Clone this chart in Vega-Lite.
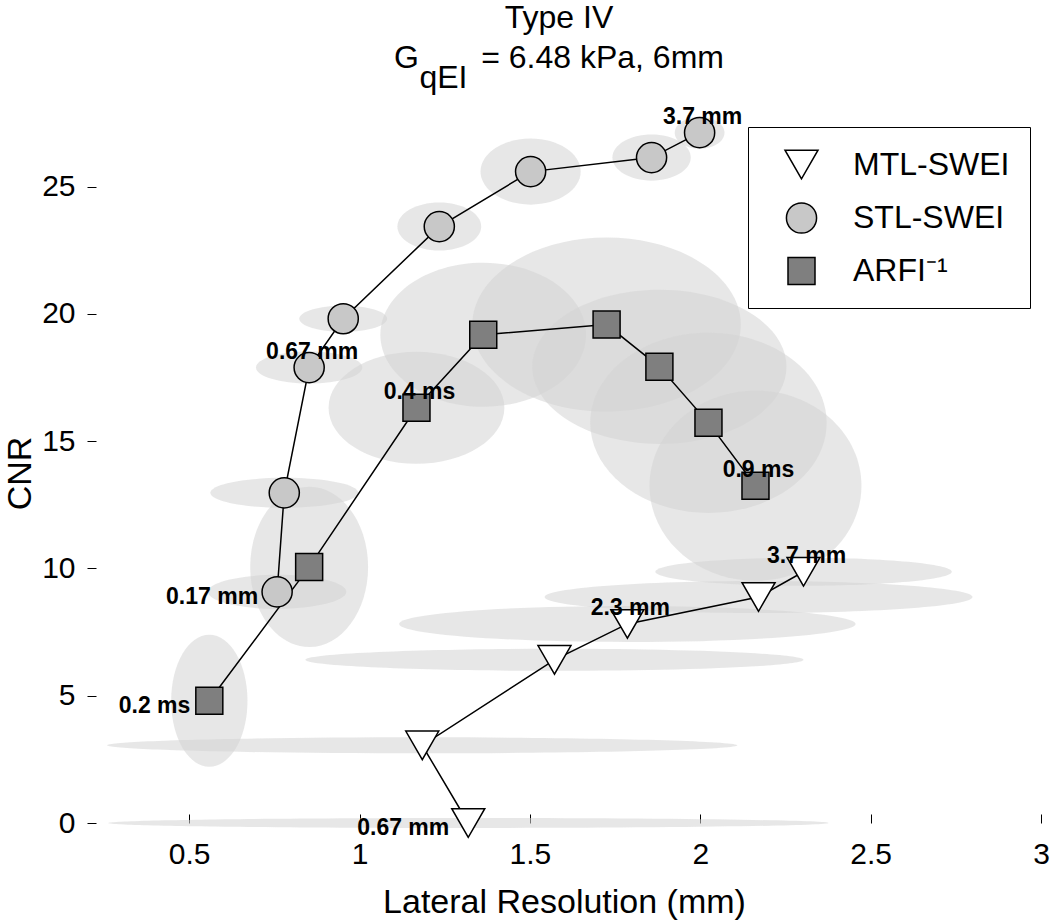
{
  "$schema": "https://vega.github.io/schema/vega-lite/v6.json",
  "width": 954,
  "height": 700,
  "autosize": {"type": "none"},
  "padding": {"left": 87, "top": 123, "right": 9, "bottom": 97},
  "background": "white",
  "config": {
    "view": {"stroke": null},
    "font": "Liberation Sans",
    "legend": {
      "orient": "none",
      "legendX": 661,
      "legendY": 4,
      "padding": 20,
      "symbolOffset": 16,
      "labelOffset": 34,
      "rowPadding": 17,
      "labelFontSize": 32,
      "labelFont": "Liberation Sans",
      "labelColor": "black",
      "strokeColor": "black",
      "fillColor": "white",
      "symbolStrokeWidth": 1.5,
      "labelLimit": 400
    }
  },
  "title": {
    "text": ["Type IV", "G\u00a0\u00a0\u00a0\u00a0\u00a0\u00a0\u00a0= 6.48 kPa, 6mm"],
    "subtitle": "qEI\u00a0\u00a0\u00a0\u00a0\u00a0\u00a0\u00a0\u00a0\u00a0\u00a0\u00a0\u00a0\u00a0\u00a0\u00a0\u00a0\u00a0\u00a0\u00a0\u00a0\u00a0\u00a0\u00a0\u00a0\u00a0\u00a0\u200b",
    "anchor": "middle",
    "font": "Liberation Sans",
    "fontSize": 32,
    "fontWeight": "normal",
    "color": "black",
    "lineHeight": 40,
    "subtitleFont": "Liberation Sans",
    "subtitleFontSize": 32,
    "subtitleColor": "black",
    "subtitlePadding": -12,
    "offset": 11,
    "dx": -5
  },
  "datasets": {
    "points": [
      {"series": "MTL-SWEI", "step": 1, "x": 1.319, "y": 0.0, "label": "0.67 mm"},
      {"series": "MTL-SWEI", "step": 2, "x": 1.184, "y": 3.05},
      {"series": "MTL-SWEI", "step": 3, "x": 1.572, "y": 6.41},
      {"series": "MTL-SWEI", "step": 4, "x": 1.786, "y": 7.82, "label": "2.3 mm"},
      {"series": "MTL-SWEI", "step": 5, "x": 2.171, "y": 8.88},
      {"series": "MTL-SWEI", "step": 6, "x": 2.303, "y": 9.87, "label": "3.7 mm"},
      {"series": "STL-SWEI", "step": 1, "x": 0.758, "y": 9.08, "label": "0.17 mm"},
      {"series": "STL-SWEI", "step": 2, "x": 0.779, "y": 12.97},
      {"series": "STL-SWEI", "step": 3, "x": 0.852, "y": 17.89, "label": "0.67 mm"},
      {"series": "STL-SWEI", "step": 4, "x": 0.952, "y": 19.81},
      {"series": "STL-SWEI", "step": 5, "x": 1.234, "y": 23.43},
      {"series": "STL-SWEI", "step": 6, "x": 1.502, "y": 25.59},
      {"series": "STL-SWEI", "step": 7, "x": 1.857, "y": 26.14},
      {"series": "STL-SWEI", "step": 8, "x": 1.998, "y": 27.12, "label": "3.7 mm"},
      {"series": "ARFI⁻¹", "step": 1, "x": 0.559, "y": 4.80, "label": "0.2 ms"},
      {"series": "ARFI⁻¹", "step": 2, "x": 0.852, "y": 10.06},
      {"series": "ARFI⁻¹", "step": 3, "x": 1.167, "y": 16.31, "label": "0.4 ms"},
      {"series": "ARFI⁻¹", "step": 4, "x": 1.363, "y": 19.18},
      {"series": "ARFI⁻¹", "step": 5, "x": 1.725, "y": 19.58},
      {"series": "ARFI⁻¹", "step": 6, "x": 1.880, "y": 17.92},
      {"series": "ARFI⁻¹", "step": 7, "x": 2.024, "y": 15.72},
      {"series": "ARFI⁻¹", "step": 8, "x": 2.162, "y": 13.25, "label": "0.9 ms"}
    ],
    "ellipses": [
      {"ell": "M1", "v": 1, "x": 2.376, "y": 0.0}, {"ell": "M1", "v": 2, "x": 1.319, "y": 0.197}, {"ell": "M1", "v": 3, "x": 0.262, "y": 0.0}, {"ell": "M1", "v": 4, "x": 1.319, "y": -0.197},
      {"ell": "M2", "v": 1, "x": 2.109, "y": 3.05}, {"ell": "M2", "v": 2, "x": 1.184, "y": 3.364}, {"ell": "M2", "v": 3, "x": 0.259, "y": 3.05}, {"ell": "M2", "v": 4, "x": 1.184, "y": 2.736},
      {"ell": "M3", "v": 1, "x": 2.303, "y": 6.41}, {"ell": "M3", "v": 2, "x": 1.572, "y": 6.842}, {"ell": "M3", "v": 3, "x": 0.841, "y": 6.41}, {"ell": "M3", "v": 4, "x": 1.572, "y": 5.978},
      {"ell": "M4", "v": 1, "x": 2.456, "y": 7.82}, {"ell": "M4", "v": 2, "x": 1.786, "y": 8.528}, {"ell": "M4", "v": 3, "x": 1.116, "y": 7.82}, {"ell": "M4", "v": 4, "x": 1.786, "y": 7.112},
      {"ell": "M5", "v": 1, "x": 2.799, "y": 8.88}, {"ell": "M5", "v": 2, "x": 2.171, "y": 9.509}, {"ell": "M5", "v": 3, "x": 1.543, "y": 8.88}, {"ell": "M5", "v": 4, "x": 2.171, "y": 8.251},
      {"ell": "M6", "v": 1, "x": 2.738, "y": 9.87}, {"ell": "M6", "v": 2, "x": 2.303, "y": 10.42}, {"ell": "M6", "v": 3, "x": 1.868, "y": 9.87}, {"ell": "M6", "v": 4, "x": 2.303, "y": 9.32},
      {"ell": "S1", "v": 1, "x": 0.961, "y": 9.08}, {"ell": "S1", "v": 2, "x": 0.758, "y": 9.748}, {"ell": "S1", "v": 3, "x": 0.555, "y": 9.08}, {"ell": "S1", "v": 4, "x": 0.758, "y": 8.412},
      {"ell": "S2", "v": 1, "x": 0.996, "y": 12.97}, {"ell": "S2", "v": 2, "x": 0.779, "y": 13.56}, {"ell": "S2", "v": 3, "x": 0.562, "y": 12.97}, {"ell": "S2", "v": 4, "x": 0.779, "y": 12.38},
      {"ell": "S3", "v": 1, "x": 1.008, "y": 17.89}, {"ell": "S3", "v": 2, "x": 0.852, "y": 18.519}, {"ell": "S3", "v": 3, "x": 0.696, "y": 17.89}, {"ell": "S3", "v": 4, "x": 0.852, "y": 17.261},
      {"ell": "S4", "v": 1, "x": 1.081, "y": 19.81}, {"ell": "S4", "v": 2, "x": 0.952, "y": 20.321}, {"ell": "S4", "v": 3, "x": 0.823, "y": 19.81}, {"ell": "S4", "v": 4, "x": 0.952, "y": 19.299},
      {"ell": "S5", "v": 1, "x": 1.357, "y": 23.43}, {"ell": "S5", "v": 2, "x": 1.234, "y": 24.373}, {"ell": "S5", "v": 3, "x": 1.111, "y": 23.43}, {"ell": "S5", "v": 4, "x": 1.234, "y": 22.487},
      {"ell": "S6", "v": 1, "x": 1.649, "y": 25.59}, {"ell": "S6", "v": 2, "x": 1.502, "y": 26.887}, {"ell": "S6", "v": 3, "x": 1.355, "y": 25.59}, {"ell": "S6", "v": 4, "x": 1.502, "y": 24.293},
      {"ell": "S7", "v": 1, "x": 1.972, "y": 26.14}, {"ell": "S7", "v": 2, "x": 1.857, "y": 27.044}, {"ell": "S7", "v": 3, "x": 1.742, "y": 26.14}, {"ell": "S7", "v": 4, "x": 1.857, "y": 25.236},
      {"ell": "S8", "v": 1, "x": 2.071, "y": 27.12}, {"ell": "S8", "v": 2, "x": 1.998, "y": 27.749}, {"ell": "S8", "v": 3, "x": 1.925, "y": 27.12}, {"ell": "S8", "v": 4, "x": 1.998, "y": 26.491},
      {"ell": "A1", "v": 1, "x": 0.671, "y": 4.80}, {"ell": "A1", "v": 2, "x": 0.559, "y": 7.394}, {"ell": "A1", "v": 3, "x": 0.447, "y": 4.80}, {"ell": "A1", "v": 4, "x": 0.559, "y": 2.206},
      {"ell": "A2", "v": 1, "x": 1.025, "y": 10.06}, {"ell": "A2", "v": 2, "x": 0.852, "y": 13.205}, {"ell": "A2", "v": 3, "x": 0.679, "y": 10.06}, {"ell": "A2", "v": 4, "x": 0.852, "y": 6.915},
      {"ell": "A3", "v": 1, "x": 1.425, "y": 16.31}, {"ell": "A3", "v": 2, "x": 1.167, "y": 18.511}, {"ell": "A3", "v": 3, "x": 0.909, "y": 16.31}, {"ell": "A3", "v": 4, "x": 1.167, "y": 14.109},
      {"ell": "A4", "v": 1, "x": 1.665, "y": 19.18}, {"ell": "A4", "v": 2, "x": 1.363, "y": 22.01}, {"ell": "A4", "v": 3, "x": 1.061, "y": 19.18}, {"ell": "A4", "v": 4, "x": 1.363, "y": 16.35},
      {"ell": "A5", "v": 1, "x": 2.119, "y": 19.58}, {"ell": "A5", "v": 2, "x": 1.725, "y": 23.0}, {"ell": "A5", "v": 3, "x": 1.331, "y": 19.58}, {"ell": "A5", "v": 4, "x": 1.725, "y": 16.16},
      {"ell": "A6", "v": 1, "x": 2.253, "y": 17.92}, {"ell": "A6", "v": 2, "x": 1.880, "y": 20.947}, {"ell": "A6", "v": 3, "x": 1.507, "y": 17.92}, {"ell": "A6", "v": 4, "x": 1.880, "y": 14.893},
      {"ell": "A7", "v": 1, "x": 2.371, "y": 15.72}, {"ell": "A7", "v": 2, "x": 2.024, "y": 19.258}, {"ell": "A7", "v": 3, "x": 1.677, "y": 15.72}, {"ell": "A7", "v": 4, "x": 2.024, "y": 12.182},
      {"ell": "A8", "v": 1, "x": 2.473, "y": 13.25}, {"ell": "A8", "v": 2, "x": 2.162, "y": 16.984}, {"ell": "A8", "v": 3, "x": 1.851, "y": 13.25}, {"ell": "A8", "v": 4, "x": 2.162, "y": 9.516}
    ]
  },
  "encoding": {
    "x": {
      "field": "x",
      "type": "quantitative",
      "scale": {"domain": [0.2, 3.0], "nice": false, "zero": false},
      "axis": {
        "title": "Lateral Resolution (mm)",
        "values": [0.5, 1, 1.5, 2, 2.5, 3],
        "format": "~g",
        "domain": false,
        "grid": false,
        "ticks": true,
        "tickSize": -9,
        "tickColor": "black",
        "tickWidth": 1,
        "labelFont": "Liberation Sans",
        "labelFontSize": 30,
        "labelColor": "black",
        "labelPadding": 25,
        "labelFlush": false,
        "titleFont": "Liberation Sans",
        "titleFontSize": 34,
        "titleFontWeight": "normal",
        "titleColor": "black",
        "titlePadding": 16
      }
    },
    "y": {
      "field": "y",
      "type": "quantitative",
      "scale": {"domain": [0, 27.5], "nice": false, "zero": false},
      "axis": {
        "title": "CNR",
        "values": [0, 5, 10, 15, 20, 25],
        "domain": false,
        "grid": false,
        "ticks": true,
        "tickSize": -9,
        "tickColor": "black",
        "tickWidth": 1,
        "labelFont": "Liberation Sans",
        "labelFontSize": 30,
        "labelColor": "black",
        "labelPadding": 21,
        "labelFlush": false,
        "titleFont": "Liberation Sans",
        "titleFontSize": 34,
        "titleFontWeight": "normal",
        "titleColor": "black",
        "titlePadding": 4
      }
    }
  },
  "layer": [
    {
      "data": {"name": "ellipses"},
      "mark": {"type": "line", "fill": "#d4d4d4", "fillOpacity": 0.55, "stroke": null, "strokeWidth": 0, "interpolate": "cardinal-closed", "tension": -0.657},
      "encoding": {
        "detail": {"field": "ell", "type": "nominal"},
        "order": {"field": "v", "type": "quantitative"}
      }
    },
    {
      "data": {"name": "points"},
      "mark": {"type": "line", "stroke": "black", "strokeWidth": 1.5},
      "encoding": {
        "detail": {"field": "series", "type": "nominal"},
        "order": {"field": "step", "type": "quantitative"}
      }
    },
    {
      "data": {"name": "points"},
      "mark": {"type": "point", "filled": true, "strokeWidth": 1.5, "opacity": 1},
      "encoding": {
        "shape": {"field": "series", "type": "nominal", "scale": {"domain": ["MTL-SWEI", "STL-SWEI", "ARFI⁻¹"], "range": ["triangle-down", "circle", "square"]}, "legend": {"title": null}},
        "fill": {"field": "series", "type": "nominal", "scale": {"domain": ["MTL-SWEI", "STL-SWEI", "ARFI⁻¹"], "range": ["#ffffff", "#c8c8c8", "#7f7f7f"]}, "legend": {"title": null}},
        "stroke": {"field": "series", "type": "nominal", "scale": {"domain": ["MTL-SWEI", "STL-SWEI", "ARFI⁻¹"], "range": ["#000000", "#000000", "#000000"]}, "legend": {"title": null}},
        "size": {"field": "series", "type": "nominal", "scale": {"domain": ["MTL-SWEI", "STL-SWEI", "ARFI⁻¹"], "range": [1089, 729, 484]}, "legend": {"title": null}}
      }
    },
    {
      "data": {"name": "points"},
      "transform": [{"filter": "isValid(datum.label) && datum.step == 1"}],
      "mark": {"type": "text", "align": "right", "baseline": "middle", "dx": -19, "dy": 5, "font": "Liberation Sans", "fontWeight": "bold", "fontSize": 23, "color": "black"},
      "encoding": {"text": {"field": "label", "type": "nominal"}}
    },
    {
      "data": {"name": "points"},
      "transform": [{"filter": "isValid(datum.label) && datum.step > 1"}],
      "mark": {"type": "text", "align": "center", "baseline": "middle", "dx": 3, "dy": -16, "font": "Liberation Sans", "fontWeight": "bold", "fontSize": 23, "color": "black"},
      "encoding": {"text": {"field": "label", "type": "nominal"}}
    }
  ]
}
